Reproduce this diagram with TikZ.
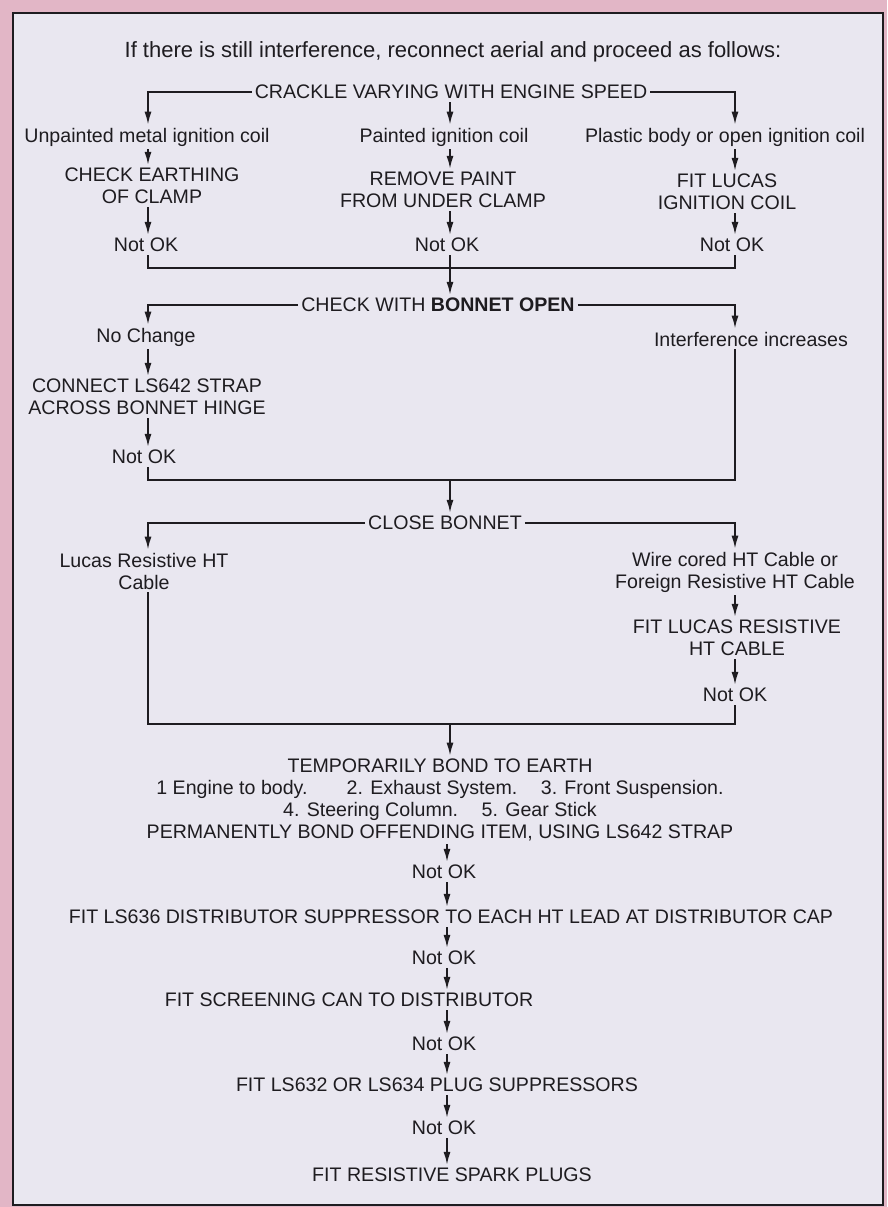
\documentclass[tikz,border=0pt]{standalone}
\usepackage{fontspec}
\setmainfont{Liberation Sans}
\usepackage{tikz}
\usetikzlibrary{arrows.meta}
\definecolor{pinkbg}{RGB}{226,182,198}
\definecolor{panel}{RGB}{233,231,240}
\definecolor{ink}{RGB}{30,28,32}

\begin{document}
\begin{tikzpicture}[x=1pt, y=-1pt, every node/.style={font=\fontsize{19.6}{22}\selectfont, text=ink, inner sep=3pt, align=center},
  flow/.style={draw=ink, line width=1.7pt, -{Latex[length=13pt,width=7pt]}},
  link/.style={draw=ink, line width=1.7pt}]
  \useasboundingbox (0,0) rectangle (887,1207);
  \fill[pinkbg] (0,0) rectangle (887,1207);
  \fill[panel] (13,13) rectangle (883,1205);
  \draw[ink, line width=2.4pt] (13,13) rectangle (883,1205);
  \coordinate (colL) at (148,0);
  \coordinate (colM) at (450,0);
  \coordinate (colR) at (735,0);
  \coordinate (colB) at (447,0);
  \coordinate (m1) at (450,268);
  \coordinate (m2) at (450,480);
  \coordinate (m3) at (450,724);
  \node[font=\fontsize{22}{24}\selectfont] (title) at (453,52) {If there is still interference, reconnect aerial and proceed as follows:};
  % ignition coil
  \node (crackle) at (451,92) {CRACKLE VARYING WITH ENGINE SPEED};
  \node (unpainted) at (147,137) {Unpainted metal ignition coil};
  \node (painted) at (444,137) {Painted ignition coil};
  \node (plastic) at (725,137) {Plastic body or open ignition coil};
  \node (earthing) at (152,186) {CHECK EARTHING\\OF CLAMP};
  \node (paint) at (443,190) {REMOVE PAINT\\FROM UNDER CLAMP};
  \node (fitcoil) at (727,192) {FIT LUCAS\\IGNITION COIL};
  \node (nokA) at (146,245) {Not OK};
  \node (nokB) at (447,245) {Not OK};
  \node (nokC) at (732,245) {Not OK};
  \draw[flow] (crackle.west) -| (unpainted.north -| colL);
  \draw[flow] (crackle.east) -| (plastic.north -| colR);
  \draw[flow] (crackle.south -| colM) -- (painted.north -| colM);
  \draw[flow] (unpainted.south -| colL) -- (earthing.north -| colL);
  \draw[flow] (painted.south -| colM) -- (paint.north -| colM);
  \draw[flow] (plastic.south -| colR) -- (fitcoil.north -| colR);
  \draw[flow] (earthing.south -| colL) -- (nokA.north -| colL);
  \draw[flow] (paint.south -| colM) -- (nokB.north -| colM);
  \draw[flow] (fitcoil.south -| colR) -- (nokC.north -| colR);
  \draw[link] (nokA.south -| colL) |- (m1) -| (nokC.south -| colR);
  % bonnet open
  \node (bonnet) at (438,305) {CHECK WITH \textbf{BONNET OPEN}};
  \node (nochange) at (146,337) {No Change};
  \node (increase) at (751,339) {Interference increases};
  \node (strap) at (147,397) {CONNECT LS642 STRAP\\ACROSS BONNET HINGE};
  \node (nokD) at (144,457) {Not OK};
  \draw[flow] (nokB.south -| colM) -- (bonnet.north -| colM);
  \draw[flow] (bonnet.west) -| (nochange.north -| colL);
  \draw[flow] (bonnet.east) -| (increase.north -| colR);
  \draw[flow] (nochange.south -| colL) -- (strap.north -| colL);
  \draw[flow] (strap.south -| colL) -- (nokD.north -| colL);
  \draw[link] (nokD.south -| colL) |- (m2) -| (increase.south -| colR);
  % HT cable
  \node (close) at (445,523) {CLOSE BONNET};
  \node (lucas) at (144,571) {Lucas Resistive HT\\Cable};
  \node (wire) at (735,572) {Wire cored HT Cable or\\Foreign Resistive HT Cable};
  \node (fitcable) at (737,638) {FIT LUCAS RESISTIVE\\HT CABLE};
  \node (nokE) at (735,695) {Not OK};
  \draw[flow] (m2) -- (close.north -| colM);
  \draw[flow] (close.west) -| (lucas.north -| colL);
  \draw[flow] (close.east) -| (wire.north -| colR);
  \draw[flow] (wire.south -| colR) -- (fitcable.north -| colR);
  \draw[flow] (fitcable.south -| colR) -- (nokE.north -| colR);
  \draw[link] (lucas.south -| colL) |- (m3) -| (nokE.south -| colR);
  % bonding and suppression
  \node (bond) at (440,800) {TEMPORARILY BOND TO EARTH\\
    1 Engine to body.\hspace{2em}2. Exhaust System.\hspace{1.2em}3. Front Suspension.\\
    4. Steering Column.\hspace{1.2em}5. Gear Stick\\
    PERMANENTLY BOND OFFENDING ITEM, USING LS642 STRAP};
  \node (nokF) at (444,872) {Not OK};
  \node (distcap) at (451,917) {FIT LS636 DISTRIBUTOR SUPPRESSOR TO EACH HT LEAD AT DISTRIBUTOR CAP};
  \node (nokG) at (444,958) {Not OK};
  \node (screen) at (349,1000) {FIT SCREENING CAN TO DISTRIBUTOR};
  \node (nokH) at (444,1044) {Not OK};
  \node (plugs) at (437,1085) {FIT LS632 OR LS634 PLUG SUPPRESSORS};
  \node (nokI) at (444,1128) {Not OK};
  \node (spark) at (452,1175) {FIT RESISTIVE SPARK PLUGS};
  \draw[flow] (m3) -- (bond.north -| colM);
  \draw[flow] (bond.south -| colB) -- (nokF.north -| colB);
  \draw[flow] (nokF.south -| colB) -- (distcap.north -| colB);
  \draw[flow] (distcap.south -| colB) -- (nokG.north -| colB);
  \draw[flow] (nokG.south -| colB) -- (screen.north -| colB);
  \draw[flow] (screen.south -| colB) -- (nokH.north -| colB);
  \draw[flow] (nokH.south -| colB) -- (plugs.north -| colB);
  \draw[flow] (plugs.south -| colB) -- (nokI.north -| colB);
  \draw[flow] (nokI.south -| colB) -- (spark.north -| colB);
\end{tikzpicture}
\end{document}
